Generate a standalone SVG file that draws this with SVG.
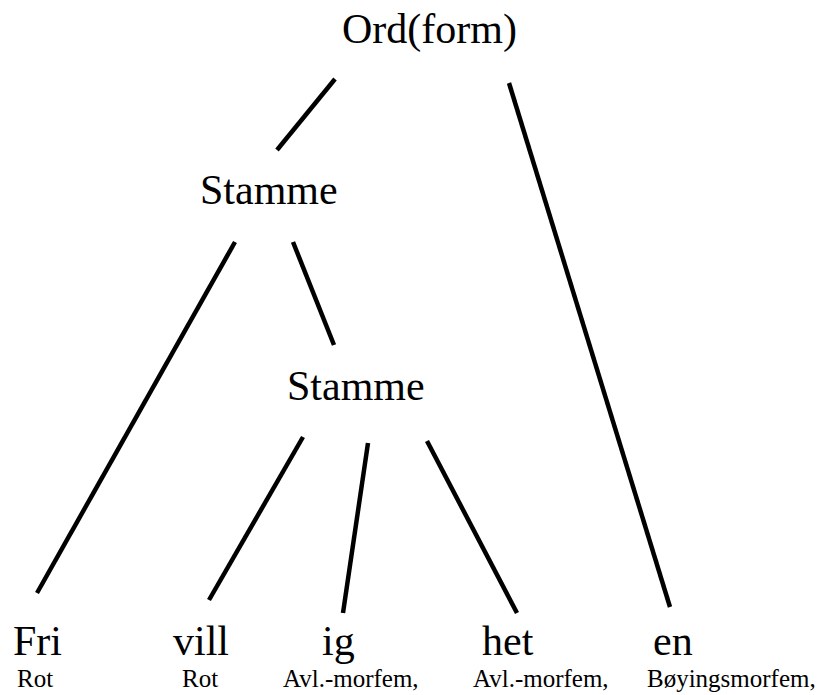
<svg xmlns="http://www.w3.org/2000/svg" width="824" height="695" viewBox="0 0 824 695">
<style>
text{font-family:'Liberation Serif','Times New Roman',Times,'DejaVu Serif',serif;fill:#000}
.big{font-size:42px}
.small{font-size:25px}
.edge{stroke:#000;stroke-width:4.5;stroke-linecap:butt;fill:none}
</style>
<rect width="824" height="695" fill="#fff"/>
<g id="connectors">
<line class="edge" x1="335" y1="79" x2="277" y2="150"/>
<line class="edge" x1="509" y1="83" x2="670" y2="607"/>
<line class="edge" x1="235" y1="242" x2="37" y2="593"/>
<line class="edge" x1="293" y1="242" x2="334" y2="345"/>
<line class="edge" x1="303" y1="437" x2="209" y2="600"/>
<line class="edge" x1="368" y1="443" x2="343" y2="613"/>
<line class="edge" x1="427" y1="441" x2="517" y2="613"/>
</g>
<g id="ord"><text class="big" x="342" y="43" font-family="Liberation Serif, serif">Ord(form)</text></g>
<g id="stamme1"><text class="big" x="200" y="204" font-family="Liberation Serif, serif">Stamme</text></g>
<g id="stamme2"><text class="big" x="287" y="400" font-family="Liberation Serif, serif">Stamme</text></g>
<g id="fri"><text class="big" x="13" y="655" font-family="Liberation Serif, serif">Fri</text><text class="small" x="17" y="687" font-family="Liberation Serif, serif">Rot</text></g>
<g id="vill"><text class="big" x="173" y="655" font-family="Liberation Serif, serif">vill</text><text class="small" x="182" y="687" font-family="Liberation Serif, serif">Rot</text></g>
<g id="ig"><text class="big" x="322" y="655" font-family="Liberation Serif, serif">ig</text><text class="small" x="283" y="687" font-family="Liberation Serif, serif">Avl.-morfem,</text></g>
<g id="het"><text class="big" x="482" y="655" font-family="Liberation Serif, serif">het</text><text class="small" x="473" y="687" font-family="Liberation Serif, serif">Avl.-morfem,</text></g>
<g id="en"><text class="big" x="653" y="655" font-family="Liberation Serif, serif">en</text><text class="small" x="647" y="687" font-family="Liberation Serif, serif">Bøyingsmorfem,</text></g>
</svg>
